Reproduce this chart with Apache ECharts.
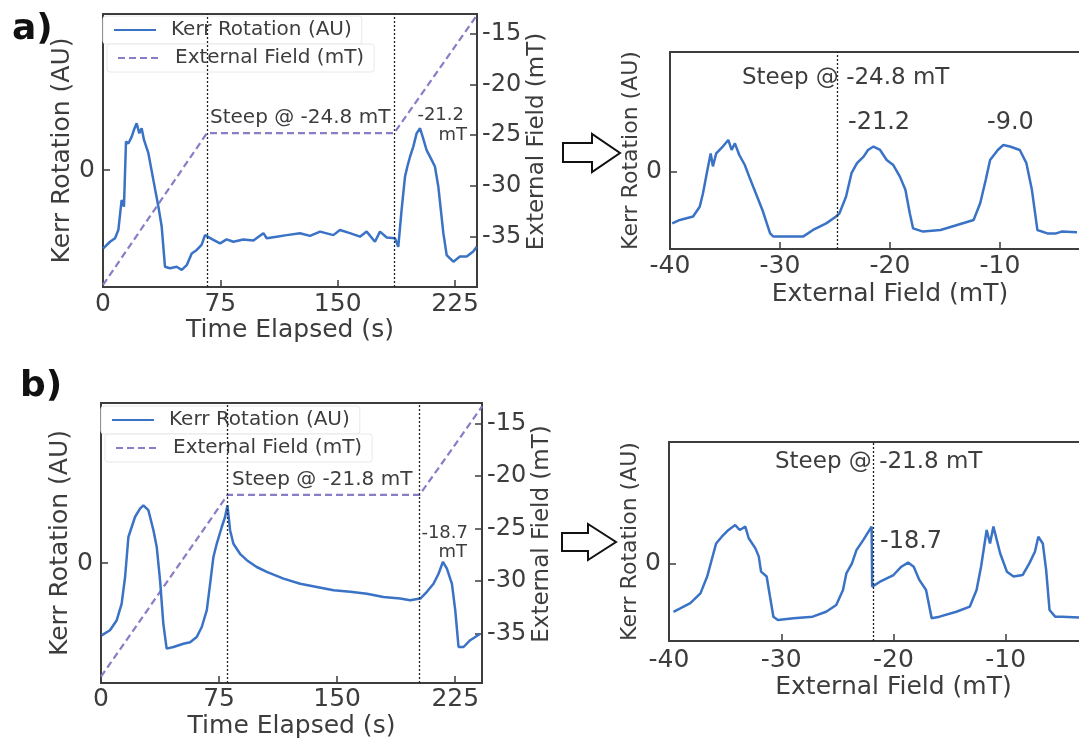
<!DOCTYPE html>
<html>
<head>
<meta charset="utf-8">
<script src="https://cdn.jsdelivr.net/npm/echarts@6/dist/echarts.min.js"></script>
<style>
  html, body { margin: 0; background: #fff; }
  #chart { width: 1079px; height: 739px; }
</style>
</head>
<body>
<div id="chart"></div>
<script>
// a) time trace
const timeA = [0.2, 4.5, 7.7, 9.8, 11.9, 13.4, 14.7, 16.2, 18.3, 19.8, 21.5, 23.2, 24.7, 26.2, 29, 32.2, 35.4, 37.5, 39.6, 42.8, 47.1, 50.3, 53.5, 56.7, 59.9, 63, 65.2, 66.2, 70.5, 74.8, 79, 83.3, 89.7, 96.1, 102.5, 104.6, 111, 117.4, 125.9, 132.3, 138.7, 147.2, 151.4, 157.8, 164.2, 168.5, 173.8, 177, 181.3, 186.6, 188.7, 190.8, 193, 194.5, 196.2, 198.3, 200.4, 202.6, 204.3, 206.8, 210, 212.1, 214.3, 217.5, 219.6, 223.9, 228.1, 232.4, 236.6, 238.8];
const kerrA = [-2.01, -1.84, -1.75, -1.54, -0.77, -0.94, 0.73, 0.68, 0.85, 1.03, 1.2, 0.94, 1.07, 0.77, 0.43, -0.26, -0.94, -1.45, -2.48, -2.52, -2.48, -2.56, -2.44, -2.14, -2.05, -1.92, -1.67, -1.67, -1.79, -1.88, -1.78, -1.84, -1.78, -1.81, -1.62, -1.75, -1.71, -1.67, -1.62, -1.69, -1.58, -1.67, -1.54, -1.62, -1.71, -1.58, -1.84, -1.58, -1.73, -1.75, -1.97, -1.03, -0.17, 0.09, 0.34, 0.6, 0.94, 1.07, 0.85, 0.51, 0.26, 0.09, -0.43, -1.62, -2.18, -2.35, -2.22, -2.22, -2.09, -1.97];
const fieldTimeA = [0, 66.4, 186, 239];
const fieldA = [-39.7, -24.8, -24.8, -13.2];
const steepTimeA = [66.4, 186];

// a) kerr vs field
const fieldAR = [-39.8, -39.1, -37.9, -37.3, -37.0, -36.6, -36.3, -36.1, -35.8, -35.2, -34.7, -34.4, -34.1, -33.7, -33.2, -32.8, -32.2, -31.6, -30.9, -30.6, -29.1, -27.9, -27.0, -25.8, -24.9, -24.6, -24.0, -23.5, -23.0, -22.4, -22.0, -21.5, -20.9, -20.3, -19.7, -19.1, -18.6, -18.2, -17.9, -17.0, -15.4, -13.9, -12.4, -11.8, -11.3, -10.9, -10.2, -9.7, -9.1, -8.2, -7.6, -7.1, -6.6, -5.7, -4.9, -4.4, -3.0];
const kerrAR = [-1.96, -1.83, -1.7, -1.33, -0.82, 0.06, 0.69, 0.2, 0.69, 0.95, 1.2, 0.82, 1.07, 0.63, 0.25, -0.19, -0.82, -1.45, -2.34, -2.46, -2.46, -2.46, -2.21, -1.96, -1.7, -1.58, -0.95, -0.06, 0.32, 0.57, 0.82, 0.95, 0.82, 0.44, 0.25, -0.19, -0.69, -1.58, -2.15, -2.27, -2.21, -2.02, -1.83, -1.2, -0.32, 0.44, 0.82, 1.01, 0.95, 0.82, 0.32, -0.69, -2.21, -2.34, -2.34, -2.27, -2.3];
const steepFieldA = -24.8;

// b) time trace
const timeB = [0.4, 5.7, 10, 13.1, 15.3, 17.4, 19.5, 21.6, 24.8, 26.9, 30.1, 33.3, 35.4, 37.5, 39.6, 41.7, 46, 52.3, 56.6, 60.8, 64, 67.2, 69.3, 71.4, 73.5, 76.7, 78.8, 80.3, 82, 84.1, 88.3, 92.6, 98.9, 105.3, 115.9, 126.5, 137.1, 147.7, 158.3, 168.9, 179.4, 190, 196.4, 202.8, 207, 211.2, 214.4, 217.2, 219.7, 222.9, 225, 227.1, 230.3, 234.5, 240.9];
const kerrB = [-1.81, -1.68, -1.43, -1.02, -0.35, 0.65, 0.9, 1.15, 1.36, 1.44, 1.32, 0.82, 0.4, -0.43, -1.52, -2.14, -2.1, -2.02, -1.98, -1.85, -1.6, -1.18, -0.52, 0.15, 0.48, 0.9, 1.15, 1.44, 0.82, 0.48, 0.23, 0.07, -0.1, -0.22, -0.39, -0.52, -0.6, -0.68, -0.72, -0.77, -0.85, -0.89, -0.93, -0.89, -0.72, -0.52, -0.27, 0.03, -0.14, -0.52, -1.18, -2.1, -2.1, -1.93, -1.77];
const fieldTimeB = [0, 80.5, 202.4, 242];
const fieldB = [-39.1, -21.8, -21.8, -13.4];
const steepTimeB = [80.5, 202.4];

// b) kerr vs field
const fieldBR = [-39.6, -39.0, -38.1, -37.2, -36.6, -36.2, -35.8, -35.3, -34.7, -34.1, -33.7, -33.2, -32.9, -32.3, -32.0, -31.8, -31.3, -31.0, -30.7, -30.3, -28.9, -27.2, -26.0, -25.1, -24.5, -24.2, -23.7, -23.3, -22.7, -21.95, -21.9, -21.2, -20.0, -19.3, -18.7, -18.2, -17.7, -17.1, -16.6, -15.9, -14.4, -13.2, -12.6, -12.2, -11.7, -11.4, -11.1, -10.5, -9.9, -9.3, -8.5, -7.9, -7.4, -7.1, -6.7, -6.4, -6.1, -5.6, -5.0, -3.0];
const kerrBR = [-1.87, -1.74, -1.54, -1.16, -0.51, 0.13, 0.77, 1.03, 1.29, 1.48, 1.29, 1.42, 0.97, 0.58, 0.26, -0.32, -0.51, -1.29, -2.06, -2.19, -2.12, -2.06, -1.87, -1.61, -1.03, -0.39, 0, 0.51, 0.9, 1.42, -0.9, -0.71, -0.45, -0.13, 0.03, -0.13, -0.64, -1.03, -2.12, -2.06, -1.87, -1.67, -1.03, -0.13, 1.29, 0.77, 1.42, 0.39, -0.32, -0.51, -0.45, 0, 0.45, 1.03, 0.77, -0.26, -1.8, -2.06, -2.06, -2.1];
const steepFieldB = -21.8;

const fieldTicks = [-35, -30, -25, -20, -15];
const KERR = 'Kerr Rotation (AU)';
const FIELD = 'External Field (mT)';
const blue = '#3a72c6';
const purple = '#8a7cc6';
const ink = '#3d3d3d';
const font = 'DejaVu Sans';

const zip = (xs, ys) => xs.map((x, i) => [x, ys[i]]);

// field panels run past the right page edge, so no fitting to the container
function grid(left, top, width, height) {
  return { left, top, width, height, outerBoundsMode: 'none', containLabel: false,
    show: true, borderColor: ink, borderWidth: 2, backgroundColor: 'transparent' };
}

function xAxis(gridIndex, min, max, labelMargin, nameGap, name) {
  return {
    type: 'value', gridIndex, min, max, interval: gridIndex % 2 ? 10 : 75,
    name, nameLocation: 'middle', nameGap,
    nameTextStyle: { fontFamily: font, fontSize: 25, color: ink },
    axisLine: { show: false, onZero: false },
    axisTick: { show: true, inside: true, length: 7, lineStyle: { color: ink, width: 1.5 } },
    axisLabel: { margin: labelMargin, fontFamily: font, fontSize: 25, color: ink, showMaxLabel: false },
    splitLine: { show: false }
  };
}

function kerrAxis(gridIndex, min, max, nameGap, size) {
  return {
    type: 'value', gridIndex, min, max, position: 'left',
    name: KERR, nameLocation: 'middle', nameGap,
    nameTextStyle: { fontFamily: font, fontSize: size, color: ink },
    axisLine: { show: false, onZero: false },
    axisTick: { show: true, inside: true, length: 7, customValues: [0], lineStyle: { color: ink, width: 1.5 } },
    axisLabel: { customValues: [0], margin: 8, fontFamily: font, fontSize: 25, color: ink },
    splitLine: { show: false }
  };
}

function fieldAxis(gridIndex, min, max) {
  return {
    type: 'value', gridIndex, min, max, position: 'right',
    name: FIELD, nameLocation: 'middle', nameGap: 48, nameRotate: 90,
    nameTextStyle: { fontFamily: font, fontSize: 23, color: ink, padding: [0, 0, 0, 18] },
    axisLine: { show: false, onZero: false },
    axisTick: { show: true, inside: true, length: 7, customValues: fieldTicks, lineStyle: { color: ink, width: 1.5 } },
    axisLabel: { customValues: fieldTicks, margin: 5, fontFamily: font, fontSize: 24, color: ink },
    splitLine: { show: false }
  };
}

function steepLine(values) {
  return {
    silent: true, symbol: 'none', label: { show: false },
    lineStyle: { color: '#222', type: [2, 2], width: 1.3 },
    data: values.map(v => ({ xAxis: v }))
  };
}

function kerrSeries(x, y, data, steep) {
  return {
    name: KERR, type: 'line', xAxisIndex: x, yAxisIndex: y, data, symbol: 'none',
    lineStyle: { color: blue, width: 2.5 }, itemStyle: { color: blue },
    markLine: steepLine(steep), z: 3, animation: false
  };
}

function fieldSeries(x, y, data) {
  return {
    name: FIELD, type: 'line', xAxisIndex: x, yAxisIndex: y, data, symbol: 'none',
    lineStyle: { color: purple, width: 2.2, type: [7, 4] }, itemStyle: { color: purple },
    z: 2, animation: false
  };
}

function legend(name, left, top) {
  return {
    data: [name], left, top, orient: 'vertical',
    backgroundColor: '#fff', borderColor: '#e8e8e8', borderWidth: 1, borderRadius: 3,
    padding: [4, 10, 4, 10], itemWidth: 42, itemHeight: 14, selectedMode: false,
    itemStyle: { opacity: 0 },
    textStyle: { fontFamily: font, fontSize: 20, color: ink, padding: [0, 0, 0, 10] }
  };
}

function txt(x, y, text, size, align, weight, color) {
  return {
    type: 'text', x, y, z: 100,
    style: { text, x: 0, y: 0, fill: color || ink, font: (weight || 'normal') + ' ' + size + 'px "' + font + '"',
      textAlign: align || 'left', textVerticalAlign: 'middle' }
  };
}

function arrow(pts) {
  return { type: 'polygon', z: 100, shape: { points: pts }, style: { fill: '#fff', stroke: '#111', lineWidth: 2 } };
}

const chart = echarts.init(document.getElementById('chart'), null, { renderer: 'canvas' });

chart.setOption({
  backgroundColor: '#fff',
  animation: false,
  grid: [
    grid(103, 14, 374, 273),
    grid(670, 52, 440, 197),
    grid(101, 403, 381, 280),
    grid(669, 442, 449, 199)
  ],
  xAxis: [
    xAxis(0, 0, 239, 5, 30, 'Time Elapsed (s)'),
    xAxis(1, -40, 0, 5, 33, 'External Field (mT)'),
    xAxis(2, 0, 242, 4, 31, 'Time Elapsed (s)'),
    xAxis(3, -40, 0, 7, 34, 'External Field (mT)')
  ],
  yAxis: [
    kerrAxis(0, -3, 4, 27, 25),
    fieldAxis(0, -39.9, -13.1),
    kerrAxis(1, -2.93, 4.53, 26, 22),
    kerrAxis(2, -3, 4, 28, 25),
    fieldAxis(2, -39.7, -13.07),
    kerrAxis(3, -3, 4.69, 28, 22)
  ],
  legend: [
    legend(KERR, 103, 16),
    legend(FIELD, 107, 44),
    legend(KERR, 101, 406),
    legend(FIELD, 105, 434)
  ],
  series: [
    kerrSeries(0, 0, zip(timeA, kerrA), steepTimeA),
    fieldSeries(0, 1, zip(fieldTimeA, fieldA)),
    kerrSeries(1, 2, zip(fieldAR, kerrAR), [steepFieldA]),
    kerrSeries(2, 3, zip(timeB, kerrB), steepTimeB),
    fieldSeries(2, 4, zip(fieldTimeB, fieldB)),
    kerrSeries(3, 5, zip(fieldBR, kerrBR), [steepFieldB])
  ],
  graphic: [
    txt(12, 30, 'a)', 36, 'left', 'bold', '#111'),
    txt(20, 387, 'b)', 36, 'left', 'bold', '#111'),
    txt(210, 118, 'Steep @ -24.8 mT', 20),
    txt(464, 115, '-21.2', 18, 'right'),
    txt(467, 135, 'mT', 18, 'right'),
    txt(742, 78, 'Steep @ -24.8 mT', 23),
    txt(848, 123, '-21.2', 24),
    txt(987, 123, '-9.0', 24),
    txt(232, 480, 'Steep @ -21.8 mT', 20),
    txt(468, 533, '-18.7', 18, 'right'),
    txt(467, 552, 'mT', 18, 'right'),
    txt(775, 462, 'Steep @ -21.8 mT', 23),
    txt(880, 542, '-18.7', 24),
    arrow([[563, 143], [592, 143], [592, 134], [620, 153], [592, 172], [592, 162], [563, 162]]),
    arrow([[562, 533], [588, 533], [588, 524], [616, 542], [588, 560], [588, 551], [562, 551]])
  ]
});
</script>
</body>
</html>
